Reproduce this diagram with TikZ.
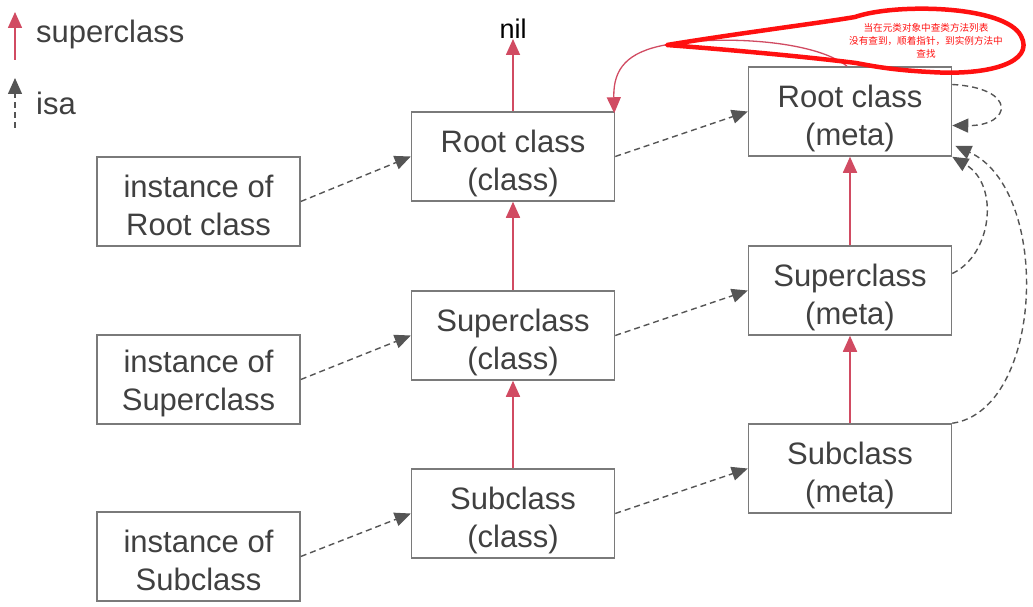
\documentclass[tikz,border=0pt]{standalone}
\usepackage{fontspec}
\setmainfont{Liberation Sans}
\newfontfamily\cjk{Noto Sans CJK SC}
\usetikzlibrary{arrows.meta}
\definecolor{boxline}{HTML}{7A7A7A}
\definecolor{txt}{HTML}{404040}
\definecolor{supred}{HTML}{D14B62}
\definecolor{isagray}{HTML}{555555}
\definecolor{markred}{HTML}{FF1010}
\begin{document}
\begin{tikzpicture}[x=1pt,y=-1pt,
  classbox/.style={draw=boxline,line width=1.5pt,minimum width=203pt,minimum height=89pt,inner sep=0pt},
  boxlabel/.style={align=center,text=txt,inner sep=0pt,yshift=-7pt,font=\fontsize{31}{38}\selectfont},
  instlabel/.style={boxlabel,yshift=3pt},
  legendtext/.style={text=txt,font=\fontsize{31}{38}\selectfont,inner sep=0pt},
  suparrow/.style={draw=supred,line width=1.6pt,-{Triangle[length=16pt,width=14pt]}},
  isaarrow/.style={draw=isagray,line width=1.4pt,dash pattern=on 6pt off 4pt,
    -{Triangle[length=16pt,width=14pt]}},
  note/.style={text=markred,font=\cjk\fontsize{9.6}{13}\selectfont,align=center,inner sep=0pt}]
\useasboundingbox (0,0) rectangle (1033,607);

% legend
\coordinate (ls0) at (15,60);
\coordinate (ls1) at (15,12);
\coordinate (li0) at (15,128);
\coordinate (li1) at (15,78);
\draw[suparrow] (ls0) -- (ls1);
\draw[isaarrow] (li0) -- (li1);
\node[legendtext,anchor=west] (lsup) at (36,34) {superclass};
\node[legendtext,anchor=west] (lisa) at (36,103) {isa};

% instances
\node[classbox,label={[instlabel]center:{instance of\\Root class}}] (inst1) at (198.5,201.5) {};
\node[classbox,label={[instlabel]center:{instance of\\Superclass}}] (inst2) at (198.5,379.5) {};
\node[classbox,label={[instlabel]center:{instance of\\Subclass}}] (inst3) at (198.5,556.5) {};

% classes
\node[classbox,label={[boxlabel]center:{Root class\\(class)}}] (cls1) at (513,156.5) {};
\node[classbox,label={[boxlabel]center:{Superclass\\(class)}}] (cls2) at (513,335.5) {};
\node[classbox,label={[boxlabel]center:{Subclass\\(class)}}] (cls3) at (513,513.5) {};

% metaclasses
\node[classbox,label={[boxlabel]center:{Root class\\(meta)}}] (meta1) at (850,111.5) {};
\node[classbox,label={[boxlabel]center:{Superclass\\(meta)}}] (meta2) at (850,290.5) {};
\node[classbox,label={[boxlabel]center:{Subclass\\(meta)}}] (meta3) at (850,468.5) {};

\node[inner sep=0pt,font=\fontsize{27}{30}\selectfont] (nil) at (513,29) {nil};

% superclass chain
\draw[suparrow] (cls1.north) -- (nil.south);
\draw[suparrow] (cls2.north) -- (cls1.south);
\draw[suparrow] (cls3.north) -- (cls2.south);
\draw[suparrow] (meta2.north) -- (meta1.south);
\draw[suparrow] (meta3.north) -- (meta2.south);

% isa pointers
\draw[isaarrow] (inst1.east) -- (cls1.west);
\draw[isaarrow] (inst2.east) -- (cls2.west);
\draw[isaarrow] (inst3.east) -- (cls3.west);
\draw[isaarrow] (cls1.east) -- (meta1.west);
\draw[isaarrow] (cls2.east) -- (meta2.west);
\draw[isaarrow] (cls3.east) -- (meta3.west);

% metaclass isa loops
\draw[isaarrow] ([yshift=27pt]meta1.east) .. controls (1018,88) and (1012,126) .. ([yshift=-14pt]meta1.east);
\draw[isaarrow] ([yshift=17pt]meta2.east) .. controls (992,255) and (1000,185) .. (meta1.south east);
\draw[isaarrow] (meta3.north east) .. controls (1044,410) and (1052,190) .. ([xshift=3pt,yshift=11pt]meta1.south east);

% root metaclass falls back to the root class
\draw[supred,line width=1.3pt,-{Triangle[length=16pt,width=14pt]}]
  ([xshift=-3pt]meta1.north) .. controls (815,40) and (720,35) .. (665,45)
  .. controls (628,52) and (613,68) .. ([xshift=-1pt,yshift=-2pt]cls1.north east);

% annotation outline
\draw[markred,line width=4.5pt,line join=round]
  (667,45) .. controls (740,33) and (820,23) .. (855,17)
  .. controls (895,3) and (1005,5) .. (1021,36)
  .. controls (1035,62) and (990,76) .. (930,72)
  .. controls (892,70) and (872,66) .. (856,63)
  .. controls (800,56) and (720,49) .. cycle;
\node[note] (memo) at (926,41) {当在元类对象中查类方法列表\\没有查到，顺着指针，到实例方法中\\查找};
\end{tikzpicture}
\end{document}
